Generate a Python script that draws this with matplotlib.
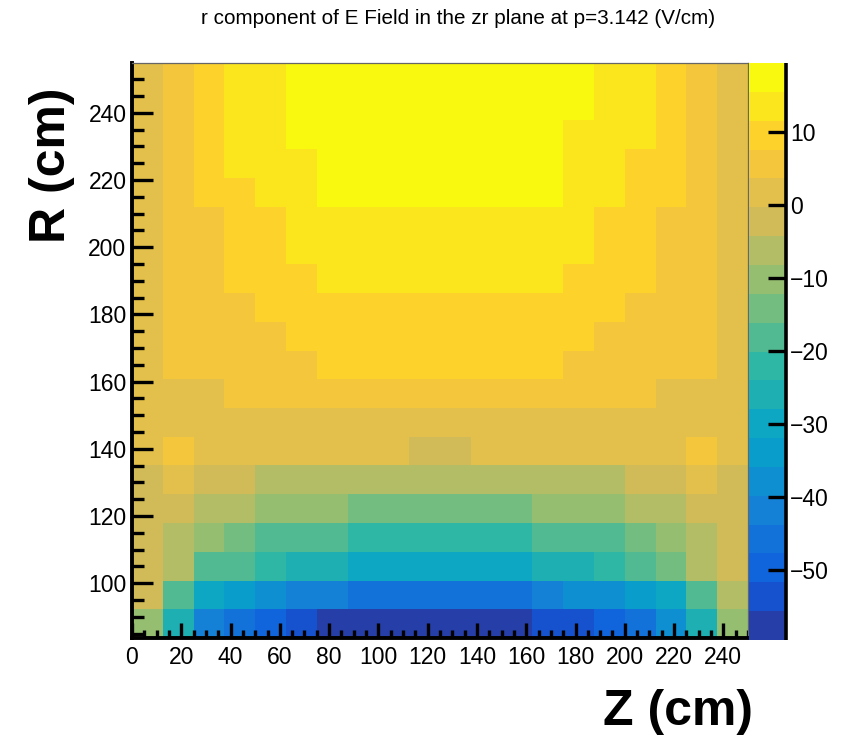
import numpy as np
import matplotlib
matplotlib.use("Agg")
import matplotlib.pyplot as plt
from matplotlib.colors import ListedColormap, Normalize
from matplotlib.ticker import MultipleLocator

# Bin edges of the field map (cm)
z_edges = np.linspace(0.0, 250.0, 21)
r_edges = np.linspace(83.7, 254.8, 21)

# E_r in the zr plane (V/cm); each row is one R bin, listed from the largest R down
er_rows = [
    [1.6, 5.6, 9.5, 13.5, 13.5, 17.4, 17.4, 17.4, 17.4, 19.4, 17.4, 17.4, 17.4, 17.4, 17.4, 13.5, 13.5, 9.5, 5.6, 1.6],
    [1.6, 5.6, 9.5, 13.5, 13.5, 17.4, 17.4, 17.4, 17.4, 17.4, 17.4, 17.4, 17.4, 17.4, 17.4, 13.5, 13.5, 9.5, 5.6, 1.6],
    [1.6, 5.6, 9.5, 13.5, 13.5, 17.4, 17.4, 17.4, 17.4, 17.4, 17.4, 17.4, 17.4, 17.4, 13.5, 13.5, 13.5, 9.5, 5.6, 1.6],
    [1.6, 5.6, 9.5, 13.5, 13.5, 13.5, 17.4, 17.4, 17.4, 17.4, 17.4, 17.4, 17.4, 17.4, 13.5, 13.5, 9.5, 9.5, 5.6, 1.6],
    [1.6, 5.6, 9.5, 9.5, 13.5, 13.5, 17.4, 17.4, 17.4, 17.4, 17.4, 17.4, 17.4, 17.4, 13.5, 13.5, 9.5, 9.5, 5.6, 1.6],
    [1.6, 5.6, 5.6, 9.5, 9.5, 13.5, 13.5, 13.5, 13.5, 13.5, 13.5, 13.5, 13.5, 13.5, 13.5, 9.5, 9.5, 5.6, 5.6, 1.6],
    [1.6, 5.6, 5.6, 9.5, 9.5, 13.5, 13.5, 13.5, 13.5, 13.5, 13.5, 13.5, 13.5, 13.5, 13.5, 9.5, 9.5, 5.6, 5.6, 1.6],
    [1.6, 5.6, 5.6, 9.5, 9.5, 9.5, 13.5, 13.5, 13.5, 13.5, 13.5, 13.5, 13.5, 13.5, 9.5, 9.5, 9.5, 5.6, 5.6, 1.6],
    [1.6, 5.6, 5.6, 5.6, 9.5, 9.5, 9.5, 9.5, 9.5, 9.5, 9.5, 9.5, 9.5, 9.5, 9.5, 9.5, 5.6, 5.6, 5.6, 1.6],
    [1.6, 5.6, 5.6, 5.6, 5.6, 9.5, 9.5, 9.5, 9.5, 9.5, 9.5, 9.5, 9.5, 9.5, 9.5, 5.6, 5.6, 5.6, 5.6, 1.6],
    [1.6, 5.6, 5.6, 5.6, 5.6, 5.6, 9.5, 9.5, 9.5, 9.5, 9.5, 9.5, 9.5, 9.5, 5.6, 5.6, 5.6, 5.6, 5.6, 1.6],
    [1.6, 1.6, 1.6, 5.6, 5.6, 5.6, 5.6, 5.6, 5.6, 5.6, 5.6, 5.6, 5.6, 5.6, 5.6, 5.6, 5.6, 1.6, 1.6, 1.6],
    [1.6, 1.6, 1.6, 1.6, 1.6, 1.6, 1.6, 1.6, 1.6, 1.6, 1.6, 1.6, 1.6, 1.6, 1.6, 1.6, 1.6, 1.6, 1.6, 1.6],
    [1.6, 5.6, 1.6, 1.6, 1.6, 1.6, 1.6, 1.6, 1.6, -2.3, -2.3, 1.6, 1.6, 1.6, 1.6, 1.6, 1.6, 1.6, 5.6, 1.6],
    [-2.3, 1.6, -2.3, -2.3, -6.3, -6.3, -6.3, -6.3, -6.3, -6.3, -6.3, -6.3, -6.3, -6.3, -6.3, -6.3, -2.3, -2.3, 1.6, -2.3],
    [-2.3, -2.3, -6.3, -6.3, -10.2, -10.2, -10.2, -14.2, -14.2, -14.2, -14.2, -14.2, -14.2, -10.2, -10.2, -10.2, -6.3, -6.3, -2.3, -2.3],
    [-2.3, -6.3, -10.2, -14.2, -18.1, -18.1, -18.1, -22.1, -22.1, -22.1, -22.1, -22.1, -22.1, -18.1, -18.1, -18.1, -14.2, -10.2, -6.3, -2.3],
    [-2.3, -6.3, -18.1, -18.1, -22.1, -26.0, -26.0, -30.0, -30.0, -30.0, -30.0, -30.0, -30.0, -26.0, -26.0, -22.1, -18.1, -14.2, -6.3, -2.3],
    [-2.3, -18.1, -30.0, -33.9, -37.9, -41.8, -41.8, -45.8, -45.8, -45.8, -45.8, -45.8, -45.8, -41.8, -37.9, -37.9, -33.9, -30.0, -18.1, -6.3],
    [-10.2, -26.0, -41.8, -45.8, -49.7, -53.7, -57.6, -57.6, -57.6, -59.6, -57.6, -57.6, -57.6, -53.7, -53.7, -49.7, -45.8, -37.9, -26.0, -10.2],
]

x_ticks = [0, 20, 40, 60, 80, 100, 120, 140, 160, 180, 200, 220, 240]
y_ticks = [100, 120, 140, 160, 180, 200, 220, 240]
cbar_ticks = [10, 0, -10, -20, -30, -40, -50]

title_text = "r component of E Field in the zr plane at p=3.142 (V/cm)"
x_label = "Z (cm)"
y_label = "R (cm)"


def bird_levels(n_levels=20, n_colors=255):
    """ROOT kBird gradient, sampled the way a COLZ palette picks its contour colours."""
    stops = [0.0, 0.125, 0.25, 0.375, 0.5, 0.625, 0.75, 0.875, 1.0]
    red = [0.2082, 0.0592, 0.0780, 0.0232, 0.1802, 0.5301, 0.8186, 0.9956, 0.9764]
    green = [0.1664, 0.3599, 0.5041, 0.6419, 0.7178, 0.7492, 0.7328, 0.7862, 0.9832]
    blue = [0.5293, 0.8684, 0.8385, 0.7914, 0.6425, 0.4662, 0.3499, 0.1968, 0.0539]
    table = []
    for g in range(1, len(stops)):
        n = int(np.floor(n_colors * stops[g]) - np.floor(n_colors * stops[g - 1]))
        for c in range(n):
            f = c / n
            table.append((red[g - 1] + f * (red[g] - red[g - 1]),
                          green[g - 1] + f * (green[g] - green[g - 1]),
                          blue[g - 1] + f * (blue[g] - blue[g - 1])))
    picks = [min(int((i + 0.99) * n_colors / n_levels), len(table) - 1) for i in range(n_levels)]
    return ListedColormap([table[p] for p in picks])


plt.rcParams['font.family'] = ['Liberation Sans', 'DejaVu Sans']

W, H = 859, 738
fig = plt.figure(figsize=(W / 100, H / 100), dpi=100)
fig.patch.set_facecolor('white')

values = np.flipud(np.array(er_rows))
cmap = bird_levels()
norm = Normalize(vmin=values.min(), vmax=values.max())

ax = fig.add_axes([132 / W, (H - 638) / H, 616 / W, 575 / H])
mesh = ax.pcolormesh(z_edges, r_edges, values, cmap=cmap, norm=norm,
                     shading='flat', antialiased=False, edgecolors='none')
ax.set_xlim(z_edges[0], z_edges[-1])
ax.set_ylim(r_edges[0], r_edges[-1])

ax.set_xticks(x_ticks)
ax.set_yticks(y_ticks)
ax.xaxis.set_minor_locator(MultipleLocator(5))
ax.yaxis.set_minor_locator(MultipleLocator(5))
ax.tick_params(axis='both', which='both', direction='in', top=False, right=False,
               color='black', labelsize=16.5)
ax.tick_params(axis='y', which='major', length=15, width=2.4, pad=4)
ax.tick_params(axis='y', which='minor', length=8.5, width=2.4)
ax.tick_params(axis='x', which='major', length=11, width=2.4, pad=6)
ax.tick_params(axis='x', which='minor', length=5.5, width=2.4)

for side in ('left', 'bottom'):
    ax.spines[side].set_linewidth(2.8)
    ax.spines[side].set_color('black')
for side in ('top', 'right'):
    ax.spines[side].set_linewidth(0.9)
    ax.spines[side].set_color('#666666')

# Palette axis on the right
cax = fig.add_axes([749 / W, (H - 640) / H, 37 / W, 577 / H])
cb = fig.colorbar(mesh, cax=cax)
cb.outline.set_visible(False)
cb.set_ticks(cbar_ticks)
cax.tick_params(axis='y', which='major', direction='in', length=13, width=2.4,
                labelsize=16.5, pad=3, right=True, left=False, color='black')
cax.tick_params(axis='y', which='minor', length=0)
cax.plot([1, 1], [0, 1], transform=cax.transAxes, color='black', lw=2.6,
         clip_on=False, solid_capstyle='butt')

fig.text(458 / W, (H - 18) / H, title_text, ha='center', va='center', fontsize=14.9)
fig.text(52 / W, (H - 165) / H, y_label, rotation=90, ha='center', va='center',
         fontsize=36, fontweight='bold')
fig.text(678 / W, (H - 712) / H, x_label, ha='center', va='center',
         fontsize=36, fontweight='bold')

fig.savefig('out.png', dpi=100, facecolor='white')
